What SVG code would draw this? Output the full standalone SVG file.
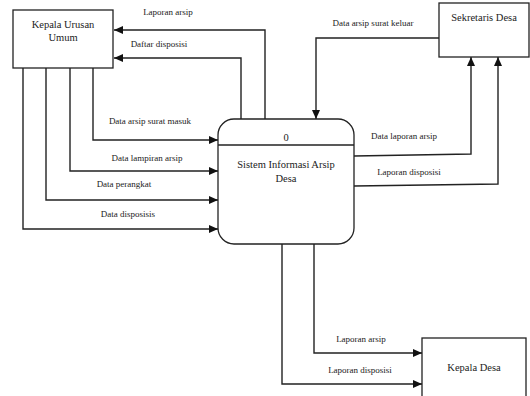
<svg xmlns="http://www.w3.org/2000/svg" width="530" height="396" viewBox="0 0 530 396">
<style>
.box{fill:#fff;stroke:#222;stroke-width:1.3}
.ln{fill:none;stroke:#222;stroke-width:1.4}
.t{font-family:"Liberation Serif","Times New Roman",serif;fill:#222}
.nt{font-size:10.5px}
.lb{font-size:9px}
</style>
<defs>
<marker id="ah" markerUnits="userSpaceOnUse" markerWidth="10" markerHeight="8" refX="9" refY="4" orient="auto">
<path d="M0,0 L9,4 L0,8 Z" fill="#111"/>
</marker>
</defs>
<rect width="530" height="396" fill="#fff"/>
<g id="connectors">
<path class="ln" marker-end="url(#ah)" d="M265,119 V30 H114"/>
<path class="ln" marker-end="url(#ah)" d="M241,119 V58 H114"/>
<path class="ln" marker-end="url(#ah)" d="M93,68 V140 H218"/>
<path class="ln" marker-end="url(#ah)" d="M70,68 V171 H218"/>
<path class="ln" marker-end="url(#ah)" d="M46,68 V200 H218"/>
<path class="ln" marker-end="url(#ah)" d="M23,68 V229 H218"/>
<path class="ln" marker-end="url(#ah)" d="M439,38 H316 V119"/>
<path class="ln" marker-end="url(#ah)" d="M354,156 L471,154 V57"/>
<path class="ln" marker-end="url(#ah)" d="M354,186 L498,184 V57"/>
<path class="ln" marker-end="url(#ah)" d="M314,244 V353 H422"/>
<path class="ln" marker-end="url(#ah)" d="M282,244 V384 H422"/>
<text class="t lb" x="168" y="15" text-anchor="middle">Laporan arsip</text>
<text class="t lb" x="159" y="47" text-anchor="middle">Daftar disposisi</text>
<text class="t lb" x="150" y="124" text-anchor="middle">Data arsip surat masuk</text>
<text class="t lb" x="147" y="161" text-anchor="middle">Data lampiran arsip</text>
<text class="t lb" x="124" y="187" text-anchor="middle">Data perangkat</text>
<text class="t lb" x="128" y="217" text-anchor="middle">Data disposisis</text>
<text class="t lb" x="373" y="26" text-anchor="middle">Data arsip surat keluar</text>
<text class="t lb" x="404" y="139" text-anchor="middle">Data laporan arsip</text>
<text class="t lb" x="409" y="175" text-anchor="middle">Laporan disposisi</text>
<text class="t lb" x="361" y="342" text-anchor="middle">Laporan arsip</text>
<text class="t lb" x="360" y="373" text-anchor="middle">Laporan disposisi</text>
</g>
<g id="kepala-urusan-umum">
<rect class="box" x="13" y="10" width="100" height="58"/>
<text class="t nt" x="63" y="28" text-anchor="middle">Kepala Urusan</text>
<text class="t nt" x="63" y="41" text-anchor="middle">Umum</text>
</g>
<g id="sistem-informasi">
<rect class="box" x="218" y="119" width="136" height="125" rx="16" ry="16"/>
<line class="ln" x1="218" y1="145" x2="354" y2="145"/>
<text class="t nt" x="286" y="141" text-anchor="middle">0</text>
<text class="t nt" x="286" y="168" text-anchor="middle">Sistem Informasi Arsip</text>
<text class="t nt" x="286" y="182" text-anchor="middle">Desa</text>
</g>
<g id="sekretaris-desa">
<rect class="box" x="439" y="3" width="90" height="54"/>
<text class="t nt" x="484" y="21" text-anchor="middle">Sekretaris Desa</text>
</g>
<g id="kepala-desa">
<rect class="box" x="422" y="338" width="104" height="62"/>
<text class="t nt" x="474" y="371" text-anchor="middle">Kepala Desa</text>
</g>
</svg>
